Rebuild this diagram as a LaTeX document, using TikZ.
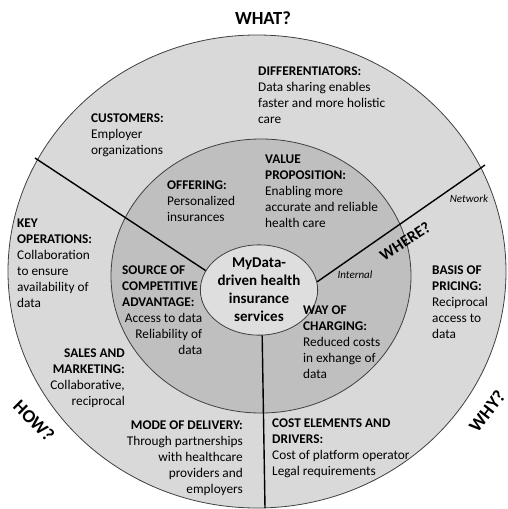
\documentclass[tikz,border=0pt]{standalone}
\usepackage{fontspec}
\setmainfont{Carlito}
\usetikzlibrary{shapes.geometric}
\definecolor{ringout}{gray}{0.85}
\definecolor{ringin}{gray}{0.75}
\definecolor{corefill}{gray}{0.87}
\begin{document}
\begin{tikzpicture}[x=1pt, y=-1pt,
    txt/.style={inner sep=0pt, font=\fontsize{13.3}{16}\selectfont},
    lft/.style={txt, anchor=north west, align=left},
    rgt/.style={txt, anchor=north east, align=right},
    ask/.style={inner sep=0pt, font=\bfseries\fontsize{18.5}{22}\selectfont},
    note/.style={inner sep=0pt, font=\itshape\fontsize{11}{13}\selectfont},
    rim/.style={draw=black!75, line width=0.8pt},
    spoke/.style={line width=1.4pt}]

    \useasboundingbox (0,0) rectangle (507,509);

    \coordinate (O) at (257,271.5);
    \coordinate (I) at (261,276);
    \coordinate (NW) at (35,158);
    \coordinate (NE) at (485,165);
    \coordinate (S) at (265,508);

    % rings
    \draw[rim, fill=ringout] (O) ellipse [x radius=249, y radius=236.5];
    \draw[rim, fill=ringin] (I) ellipse [x radius=150, y radius=137];

    \node[rim, fill=corefill, ellipse, minimum width=105pt, minimum height=80pt,
          inner sep=0pt, align=center, font=\bfseries\fontsize{15}{18}\selectfont]
          (core) at (259,290) {MyData-\\driven health\\insurance\\services};

    \draw[spoke] (core.160) -- (NW);
    \draw[spoke] (core.8) -- (NE);
    \draw[spoke] (core.-86) -- (S);

    % questions
    \node[ask] (what) at (263,18) {WHAT?};
    \node[ask, rotate=-45] (how) at (34,421) {HOW?};
    \node[ask, rotate=52] (why) at (487,411) {WHY?};
    \node[ask, font=\bfseries\fontsize{16}{19}\selectfont, rotate=33] (where) at (405,241) {WHERE?};
    \node[note] (network) at (469,199) {Network};
    \node[note] (internal) at (355,275) {Internal};

    % outer ring
    \node[lft] (diff) at (258,66.5) {\textbf{DIFFERENTIATORS:}\\Data sharing enables\\faster and more holistic\\care};
    \node[lft] (cust) at (91,113.5) {\textbf{CUSTOMERS:}\\Employer\\organizations};
    \node[lft] (keyop) at (17,218.5) {\textbf{KEY}\\\textbf{OPERATIONS:}\\Collaboration\\to ensure\\availability of\\data};
    \node[rgt] (sales) at (125,348.5) {\textbf{SALES AND}\\\textbf{MARKETING:}\\Collaborative,\\reciprocal};
    \node[rgt] (mode) at (243,420.5) {\textbf{MODE OF DELIVERY:}\\Through partnerships\\with healthcare\\providers and\\employers};
    \node[lft] (cost) at (272,418.5) {\textbf{COST ELEMENTS AND}\\\textbf{DRIVERS:}\\Cost of platform operator\\Legal requirements};
    \node[lft] (basis) at (432,265.5) {\textbf{BASIS OF}\\\textbf{PRICING:}\\Reciprocal\\access to\\data};

    % inner ring
    \node[lft] (value) at (265,154.5) {\textbf{VALUE}\\\textbf{PROPOSITION:}\\Enabling more\\accurate and reliable\\health care};
    \node[lft] (offer) at (167,180.5) {\textbf{OFFERING:}\\Personalized\\insurances};
    \node[lft] (source) at (122,265.5) {\textbf{SOURCE OF}\\\textbf{COMPETITIVE}\\\textbf{ADVANTAGE:}\\\makebox[80pt][r]{Access to data}\\\makebox[80pt][r]{Reliability of}\\\makebox[80pt][r]{data}};
    \node[lft] (charge) at (303,305.5) {\textbf{WAY OF}\\\textbf{CHARGING:}\\Reduced costs\\in exhange of\\data};

\end{tikzpicture}
\end{document}
